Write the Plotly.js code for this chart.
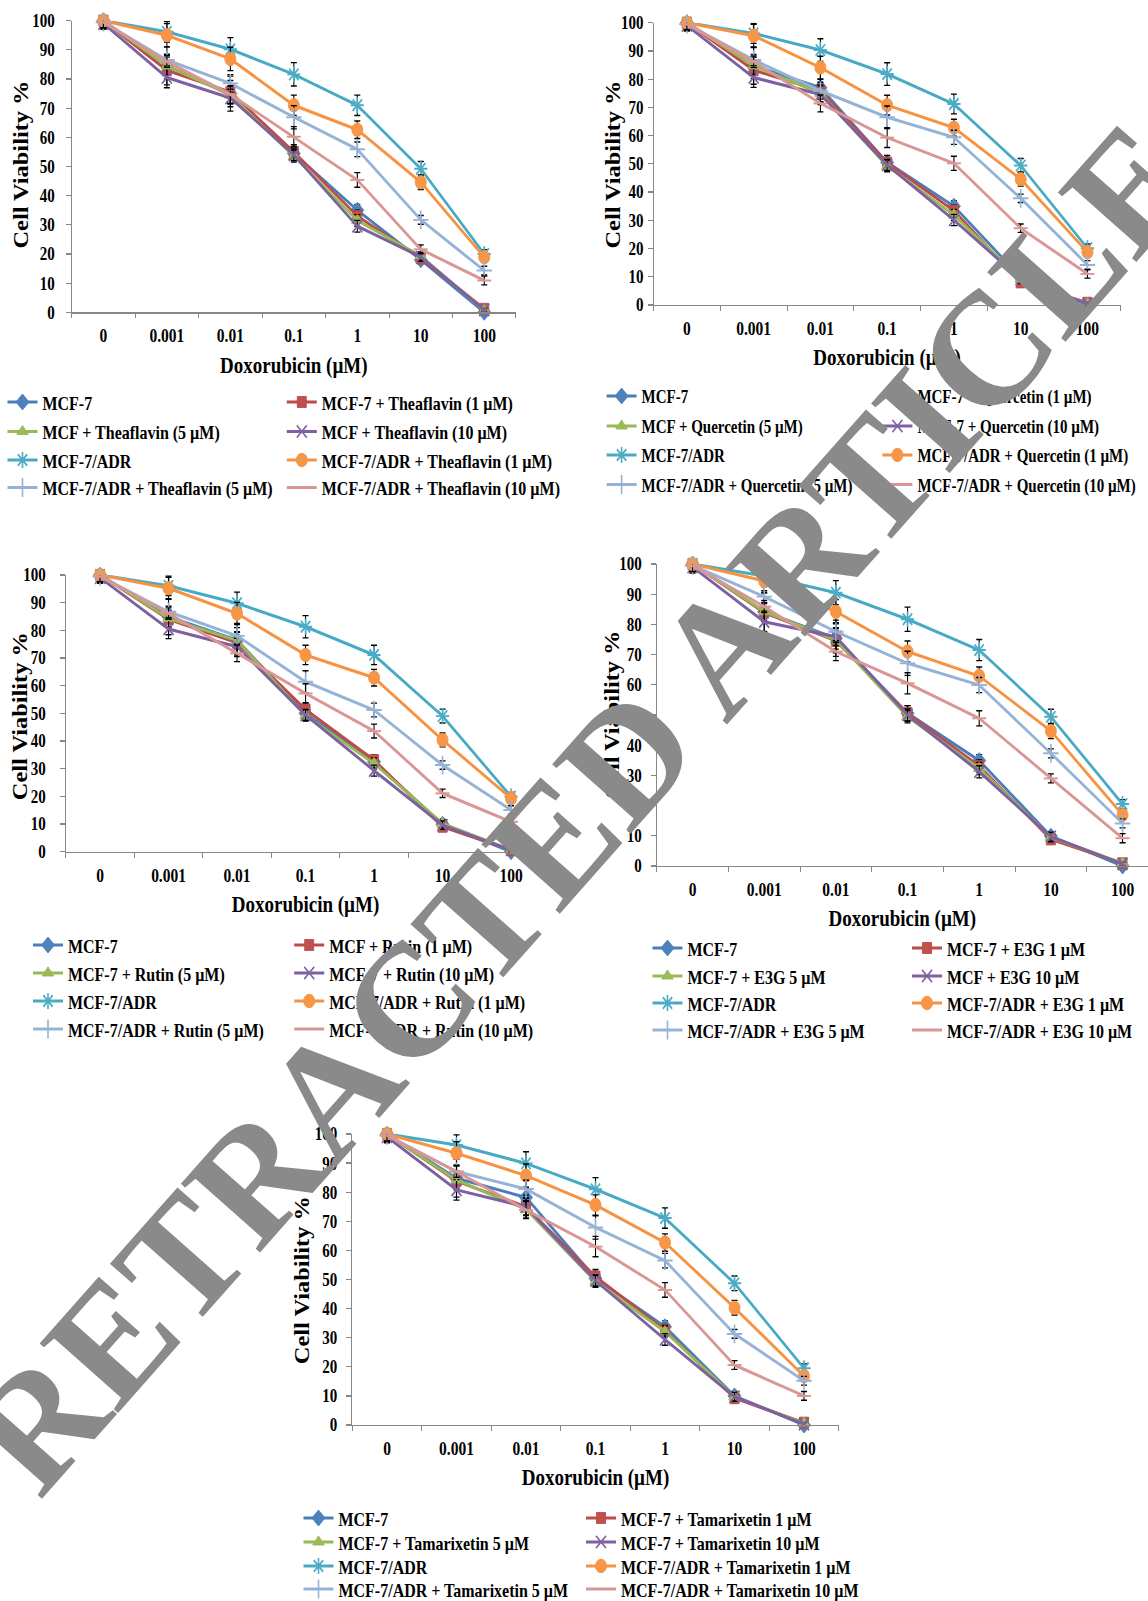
<!DOCTYPE html>
<html>
<head>
<meta charset="utf-8">
<script src="https://cdn.plot.ly/plotly-3.0.1.min.js"></script>
<style>
html,body{margin:0;padding:0;background:#fff;overflow:hidden;}
#page{position:relative;width:1148px;height:1601px;overflow:hidden;background:#fff;}
#wrap{position:absolute;left:0;top:0;width:1148px;height:1312px;transform:scaleY(1.22027);transform-origin:0 0;}
#chart{width:1148px;height:1312px;}
#stamp{position:absolute;left:582px;top:807px;transform:translate(-50%,-50%) rotate(-48.5deg);
  font-family:'Liberation Serif','Times New Roman',serif;font-weight:bold;font-size:160px;line-height:1;
  color:#8a8a8a;white-space:nowrap;pointer-events:none;}
</style>
</head>
<body>
<div id="page">
  <div id="wrap"><div id="chart"></div></div>
  <div id="stamp">RETRACTED ARTICLE</div>
</div>
<script>
// ---------- DATA ----------
const doses = ["0", "0.001", "0.01", "0.1", "1", "10", "100"];

// Theaflavin panel
const thea_MCF7    = [100, 84.5, 75.0, 54.5, 35.0, 18.0, 0.0];
const thea_MCF7_1  = [100, 83.0, 75.5, 55.0, 33.0, 18.5, 1.2];
const thea_MCF_5   = [100, 84.5, 74.5, 53.5, 31.5, 19.3, 0.6];
const thea_MCF_10  = [99, 80.5, 73.5, 54.0, 29.5, 19.0, 0.8];
const thea_ADR     = [100, 96.2, 90.2, 81.6, 71.0, 49.2, 20.0];
const thea_ADR_1   = [100, 95.0, 86.9, 71.0, 62.6, 44.6, 18.9];
const thea_ADR_5   = [99.5, 86.5, 78.5, 66.9, 55.9, 31.7, 14.3];
const thea_ADR_10  = [99.5, 86.0, 74.7, 60.2, 45.4, 21.6, 10.9];

// Quercetin panel
const quer_MCF7    = [100, 84.7, 77.0, 50.5, 35.0, 9.8, 0.0];
const quer_MCF7_1  = [100, 83.2, 75.9, 50.4, 33.4, 8.0, 0.8];
const quer_MCF_5   = [100, 84.7, 75.0, 49.2, 31.9, 9.2, 0.4];
const quer_MCF_10  = [99, 80.6, 74.6, 49.6, 30.1, 9.1, 0.4];
const quer_ADR     = [100, 96.2, 90.3, 81.8, 71.2, 49.4, 20.1];
const quer_ADR_1   = [100, 95.4, 84.1, 70.8, 62.8, 44.6, 18.7];
const quer_ADR_5   = [99.5, 86.8, 75.9, 66.5, 59.4, 37.8, 14.2];
const quer_ADR_10  = [99.5, 86.2, 71.4, 59.3, 50.2, 27.2, 11.0];

// Rutin panel
const rutin_MCF7   = [100, 84.9, 76.5, 50.0, 32.5, 9.9, 0.0];
const rutin_MCF7_1 = [100, 84.0, 75.5, 51.4, 33.1, 9.0, 0.6];
const rutin_MCF_5  = [100, 84.3, 76.3, 49.2, 31.9, 10.2, 0.6];
const rutin_MCF_10 = [99, 80.5, 74.1, 49.4, 29.3, 9.6, 0.6];
const rutin_ADR    = [100, 96.1, 89.8, 81.3, 71.1, 49.0, 19.9];
const rutin_ADR_1  = [100, 95.2, 86.1, 71.1, 62.9, 40.4, 19.3];
const rutin_ADR_5  = [99.5, 86.7, 78.0, 61.4, 51.2, 31.3, 15.1];
const rutin_ADR_10 = [99.5, 86.1, 71.7, 57.2, 43.6, 21.1, 10.8];

// E3G panel
const e3g_MCF7     = [100, 84.2, 75.4, 50.6, 34.9, 9.9, 0.0];
const e3g_MCF7_1   = [100, 83.9, 74.6, 50.6, 33.1, 8.8, 0.9];
const e3g_MCF7_5   = [100, 84.2, 74.8, 49.4, 32.3, 9.5, 0.9];
const e3g_MCF_10   = [99, 80.9, 75.9, 50.0, 31.2, 9.7, 0.7];
const e3g_ADR      = [100, 96.0, 90.5, 81.7, 71.5, 49.4, 20.5];
const e3g_ADR_1    = [100, 94.4, 84.2, 71.0, 62.9, 44.7, 16.9];
const e3g_ADR_5    = [99.5, 89.2, 77.6, 67.1, 59.9, 37.3, 14.1];
const e3g_ADR_10   = [99.5, 85.9, 71.0, 60.5, 48.9, 29.0, 9.2];

// Tamarixetin panel
const tam_MCF7     = [100, 84.8, 78.2, 50.4, 33.8, 10.0, 0.0];
const tam_MCF7_1   = [100, 83.8, 75.0, 51.0, 32.6, 9.2, 0.8];
const tam_MCF7_5   = [100, 84.2, 74.1, 49.3, 32.1, 9.7, 0.6];
const tam_MCF7_10  = [99, 80.8, 75.0, 49.6, 29.4, 9.7, 0.3];
const tam_ADR      = [100, 96.2, 89.9, 81.0, 71.1, 48.7, 19.5];
const tam_ADR_1    = [100, 93.4, 85.7, 75.6, 62.7, 40.3, 16.8];
const tam_ADR_5    = [99.5, 87.1, 81.1, 67.9, 56.5, 31.3, 15.2];
const tam_ADR_10   = [99.5, 87.1, 73.9, 61.3, 46.4, 20.6, 10.0];

// Error bars (± SD, read approximately)
const err_MCF7   = [2.5, 6.5, 6.0, 2.5, 2.0, 1.5, 0.5];
const err_MCF_1  = [2.0, 3.0, 4.0, 2.5, 2.0, 1.5, 0.5];
const err_MCF_5  = [2.0, 3.0, 3.0, 2.0, 2.0, 1.5, 0.5];
const err_MCF_10 = [2.0, 3.5, 3.0, 2.0, 2.0, 1.5, 0.5];
const err_ADR    = [2.5, 3.5, 4.0, 4.0, 3.5, 2.5, 1.5];
const err_ADR_1  = [2.0, 4.0, 4.0, 3.5, 3.0, 2.5, 1.5];
const err_ADR_5  = [2.0, 2.0, 3.0, 4.0, 2.5, 1.5, 1.5];
const err_ADR_10 = [2.0, 2.0, 3.0, 3.5, 2.5, 1.5, 1.5];

// Legend labels
const names_thea = ["MCF-7", "MCF-7 + Theaflavin (1 µM)", "MCF + Theaflavin (5 µM)", "MCF + Theaflavin (10 µM)",
  "MCF-7/ADR", "MCF-7/ADR + Theaflavin (1 µM)", "MCF-7/ADR + Theaflavin (5 µM)", "MCF-7/ADR + Theaflavin (10 µM)"];
const names_quer = ["MCF-7", "MCF-7 + Quercetin (1 µM)", "MCF + Quercetin (5 µM)", "MCF-7 + Quercetin (10 µM)",
  "MCF-7/ADR", "MCF-7/ADR + Quercetin (1 µM)", "MCF-7/ADR + Quercetin (5 µM)", "MCF-7/ADR + Quercetin (10 µM)"];
const names_rutin = ["MCF-7", "MCF + Rutin (1 µM)", "MCF-7 + Rutin (5 µM)", "MCF-7 + Rutin (10 µM)",
  "MCF-7/ADR", "MCF-7/ADR + Rutin (1 µM)", "MCF-7/ADR + Rutin (5 µM)", "MCF-7/ADR + Rutin (10 µM)"];
const names_e3g = ["MCF-7", "MCF-7 + E3G 1 µM", "MCF-7 + E3G 5 µM", "MCF + E3G 10 µM",
  "MCF-7/ADR", "MCF-7/ADR + E3G 1 µM", "MCF-7/ADR + E3G 5 µM", "MCF-7/ADR + E3G 10 µM"];
const names_tam = ["MCF-7", "MCF-7 + Tamarixetin 1 µM", "MCF-7 + Tamarixetin 5 µM", "MCF-7 + Tamarixetin 10 µM",
  "MCF-7/ADR", "MCF-7/ADR + Tamarixetin 1 µM", "MCF-7/ADR + Tamarixetin 5 µM", "MCF-7/ADR + Tamarixetin 10 µM"];

const xTitle = "Doxorubicin (µM)";
const yTitle = "Cell Viability %";

// ---------- STYLE / LAYOUT ----------
const F = "'Liberation Serif', 'Times New Roman', serif";
const W = 1148, H = 1312, HF = 1601, S = HF / H;
const AX = '#868686';

const errs = [err_MCF7, err_MCF_1, err_MCF_5, err_MCF_10, err_ADR, err_ADR_1, err_ADR_5, err_ADR_10];
const styles = [
  {line:'#4A7EBB', mk:'#4F81BD', sym:'diamond', size:10, open:false},
  {line:'#BE4B48', mk:'#C0504D', sym:'square', size:9, open:false},
  {line:'#98B954', mk:'#9BBB59', sym:'triangle-up', size:10, open:false},
  {line:'#7D60A0', mk:'#8064A2', sym:'x-thin-open', size:10, open:true},
  {line:'#46AAC5', mk:'#4BACC6', sym:'asterisk-open', size:11, open:true},
  {line:'#F69240', mk:'#F79646', sym:'circle', size:11, open:false},
  {line:'#95B3D7', mk:'#95B3D7', sym:'cross-thin-open', size:11, open:true},
  {line:'#D99694', mk:'#D99694', sym:'line-ew-open', size:10, open:true}
];

// panel geometry in full-page pixels
const panels = [
  {vals:[thea_MCF7, thea_MCF7_1, thea_MCF_5, thea_MCF_10, thea_ADR, thea_ADR_1, thea_ADR_5, thea_ADR_10], names:names_thea,
   x0:71.7, bin:63.47, yTop:20.7, yBot:312.3, ylab:8, ytx:21.5, yty:165,
   colX:[42.5, 321.8], rowY:[402, 431.5, 460, 487.5], leg:16},
  {vals:[quer_MCF7, quer_MCF7_1, quer_MCF_5, quer_MCF_10, quer_ADR, quer_ADR_1, quer_ADR_5, quer_ADR_10], names:names_quer,
   x0:653.5, bin:66.76, yTop:22.7, yBot:305, ylab:1, ytx:613.5, yty:165,
   colX:[641.6, 917.4], rowY:[396, 426, 455, 484.5], leg:15},
  {vals:[rutin_MCF7, rutin_MCF7_1, rutin_MCF_5, rutin_MCF_10, rutin_ADR, rutin_ADR_1, rutin_ADR_5, rutin_ADR_10], names:names_rutin,
   x0:65.8, bin:68.5, yTop:575, yBot:851.7, ylab:11, ytx:21, yty:716,
   colX:[68, 329.2], rowY:[945, 973, 1001, 1029], leg:16},
  {vals:[e3g_MCF7, e3g_MCF7_1, e3g_MCF7_5, e3g_MCF_10, e3g_ADR, e3g_ADR_1, e3g_ADR_5, e3g_ADR_10], names:names_e3g,
   x0:656.7, bin:71.67, yTop:564, yBot:866, ylab:6, ytx:612.5, yty:715,
   colX:[687.5, 947], rowY:[948, 976, 1003, 1030], leg:16},
  {vals:[tam_MCF7, tam_MCF7_1, tam_MCF7_5, tam_MCF7_10, tam_ADR, tam_ADR_1, tam_ADR_5, tam_ADR_10], names:names_tam,
   x0:352.25, bin:69.5, yTop:1134, yBot:1425, ylab:6, ytx:303, yty:1280,
   colX:[338.5, 621], rowY:[1518, 1542, 1566, 1589], leg:16}
];

const data = [];
const layout = {
  width: W, height: H, autosize: false,
  margin: {l:0, r:0, t:0, b:0, autoexpand:false},
  paper_bgcolor: '#fff', plot_bgcolor: 'rgba(0,0,0,0)',
  font: {family: F, color: '#000', weight: 'bold'},
  annotations: [],
  showlegend: true
};

panels.forEach((p, pi) => {
  const n = pi + 1;
  const xa = n === 1 ? 'x' : 'x' + n;
  const ya = n === 1 ? 'y' : 'y' + n;

  p.vals.forEach((vals, si) => {
    const st = styles[si];
    const k = pi * 8 + si + 1;
    const legId = k === 1 ? 'legend' : 'legend' + k;
    data.push({
      type: 'scatter', mode: 'lines+markers',
      x: doses, y: vals, name: p.names[si],
      xaxis: xa, yaxis: ya, legend: legId,
      line: {color: st.line, width: 2.5},
      marker: {symbol: st.sym, size: st.size, color: st.mk,
               line: {color: st.open ? st.mk : st.line, width: st.open ? 1.6 : 0.8}},
      error_y: {type: 'data', array: errs[si], color: '#000', thickness: 1.1, width: 3},
      cliponaxis: false, hoverinfo: 'skip'
    });
    // one legend box per entry, laid out as the two-column key of the figure
    const h = p.leg * 1.3 + 3;
    const topFull = p.rowY[Math.floor(si / 2)] - (h / 2 + 5) * S;
    layout[legId] = {
      x: (p.colX[si % 2] - 40) / W, y: 1 - topFull / HF, xanchor: 'left', yanchor: 'top',
      orientation: 'v', bgcolor: 'rgba(0,0,0,0)', borderwidth: 0,
      font: {family: F, size: p.leg, color: '#000', weight: 'bold'},
      itemclick: false, itemdoubleclick: false
    };
  });

  const x1 = Math.min(p.x0 + 7 * p.bin, W);
  layout['xaxis' + (n === 1 ? '' : n)] = {
    domain: [p.x0 / W, x1 / W], anchor: ya,
    type: 'category', categoryorder: 'array', categoryarray: doses,
    range: [-0.5, -0.5 + (x1 - p.x0) / p.bin],
    tickson: 'boundaries', ticks: 'outside', ticklen: 4, tickwidth: 1, tickcolor: AX,
    showline: true, linecolor: AX, linewidth: 1, showgrid: false, zeroline: false,
    tickfont: {family: F, size: 15.5, color: '#000', weight: 'bold'}, ticklabelstandoff: 5,
    title: {text: xTitle, font: {family: F, size: 19, color: '#000', weight: 'bold'}, standoff: 9},
    fixedrange: true
  };
  layout['yaxis' + (n === 1 ? '' : n)] = {
    domain: [1 - p.yBot / HF, 1 - p.yTop / HF], anchor: xa,
    range: [0, 100], tick0: 0, dtick: 10,
    ticks: 'outside', ticklen: 5, tickwidth: 1, tickcolor: AX,
    showline: true, linecolor: AX, linewidth: 1, showgrid: false, zeroline: false,
    tickfont: {family: F, size: 15, color: '#000', weight: 'bold'}, ticklabelstandoff: p.ylab,
    fixedrange: true
  };
  layout.annotations.push({
    text: yTitle, textangle: -90, xref: 'paper', yref: 'paper',
    x: p.ytx / W, y: 1 - p.yty / HF, xanchor: 'center', yanchor: 'middle', showarrow: false,
    font: {family: F, size: 20, color: '#000', weight: 'bold'}
  });
});

Plotly.newPlot('chart', data, layout, {displayModeBar: false, staticPlot: true});
</script>
</body>
</html>
